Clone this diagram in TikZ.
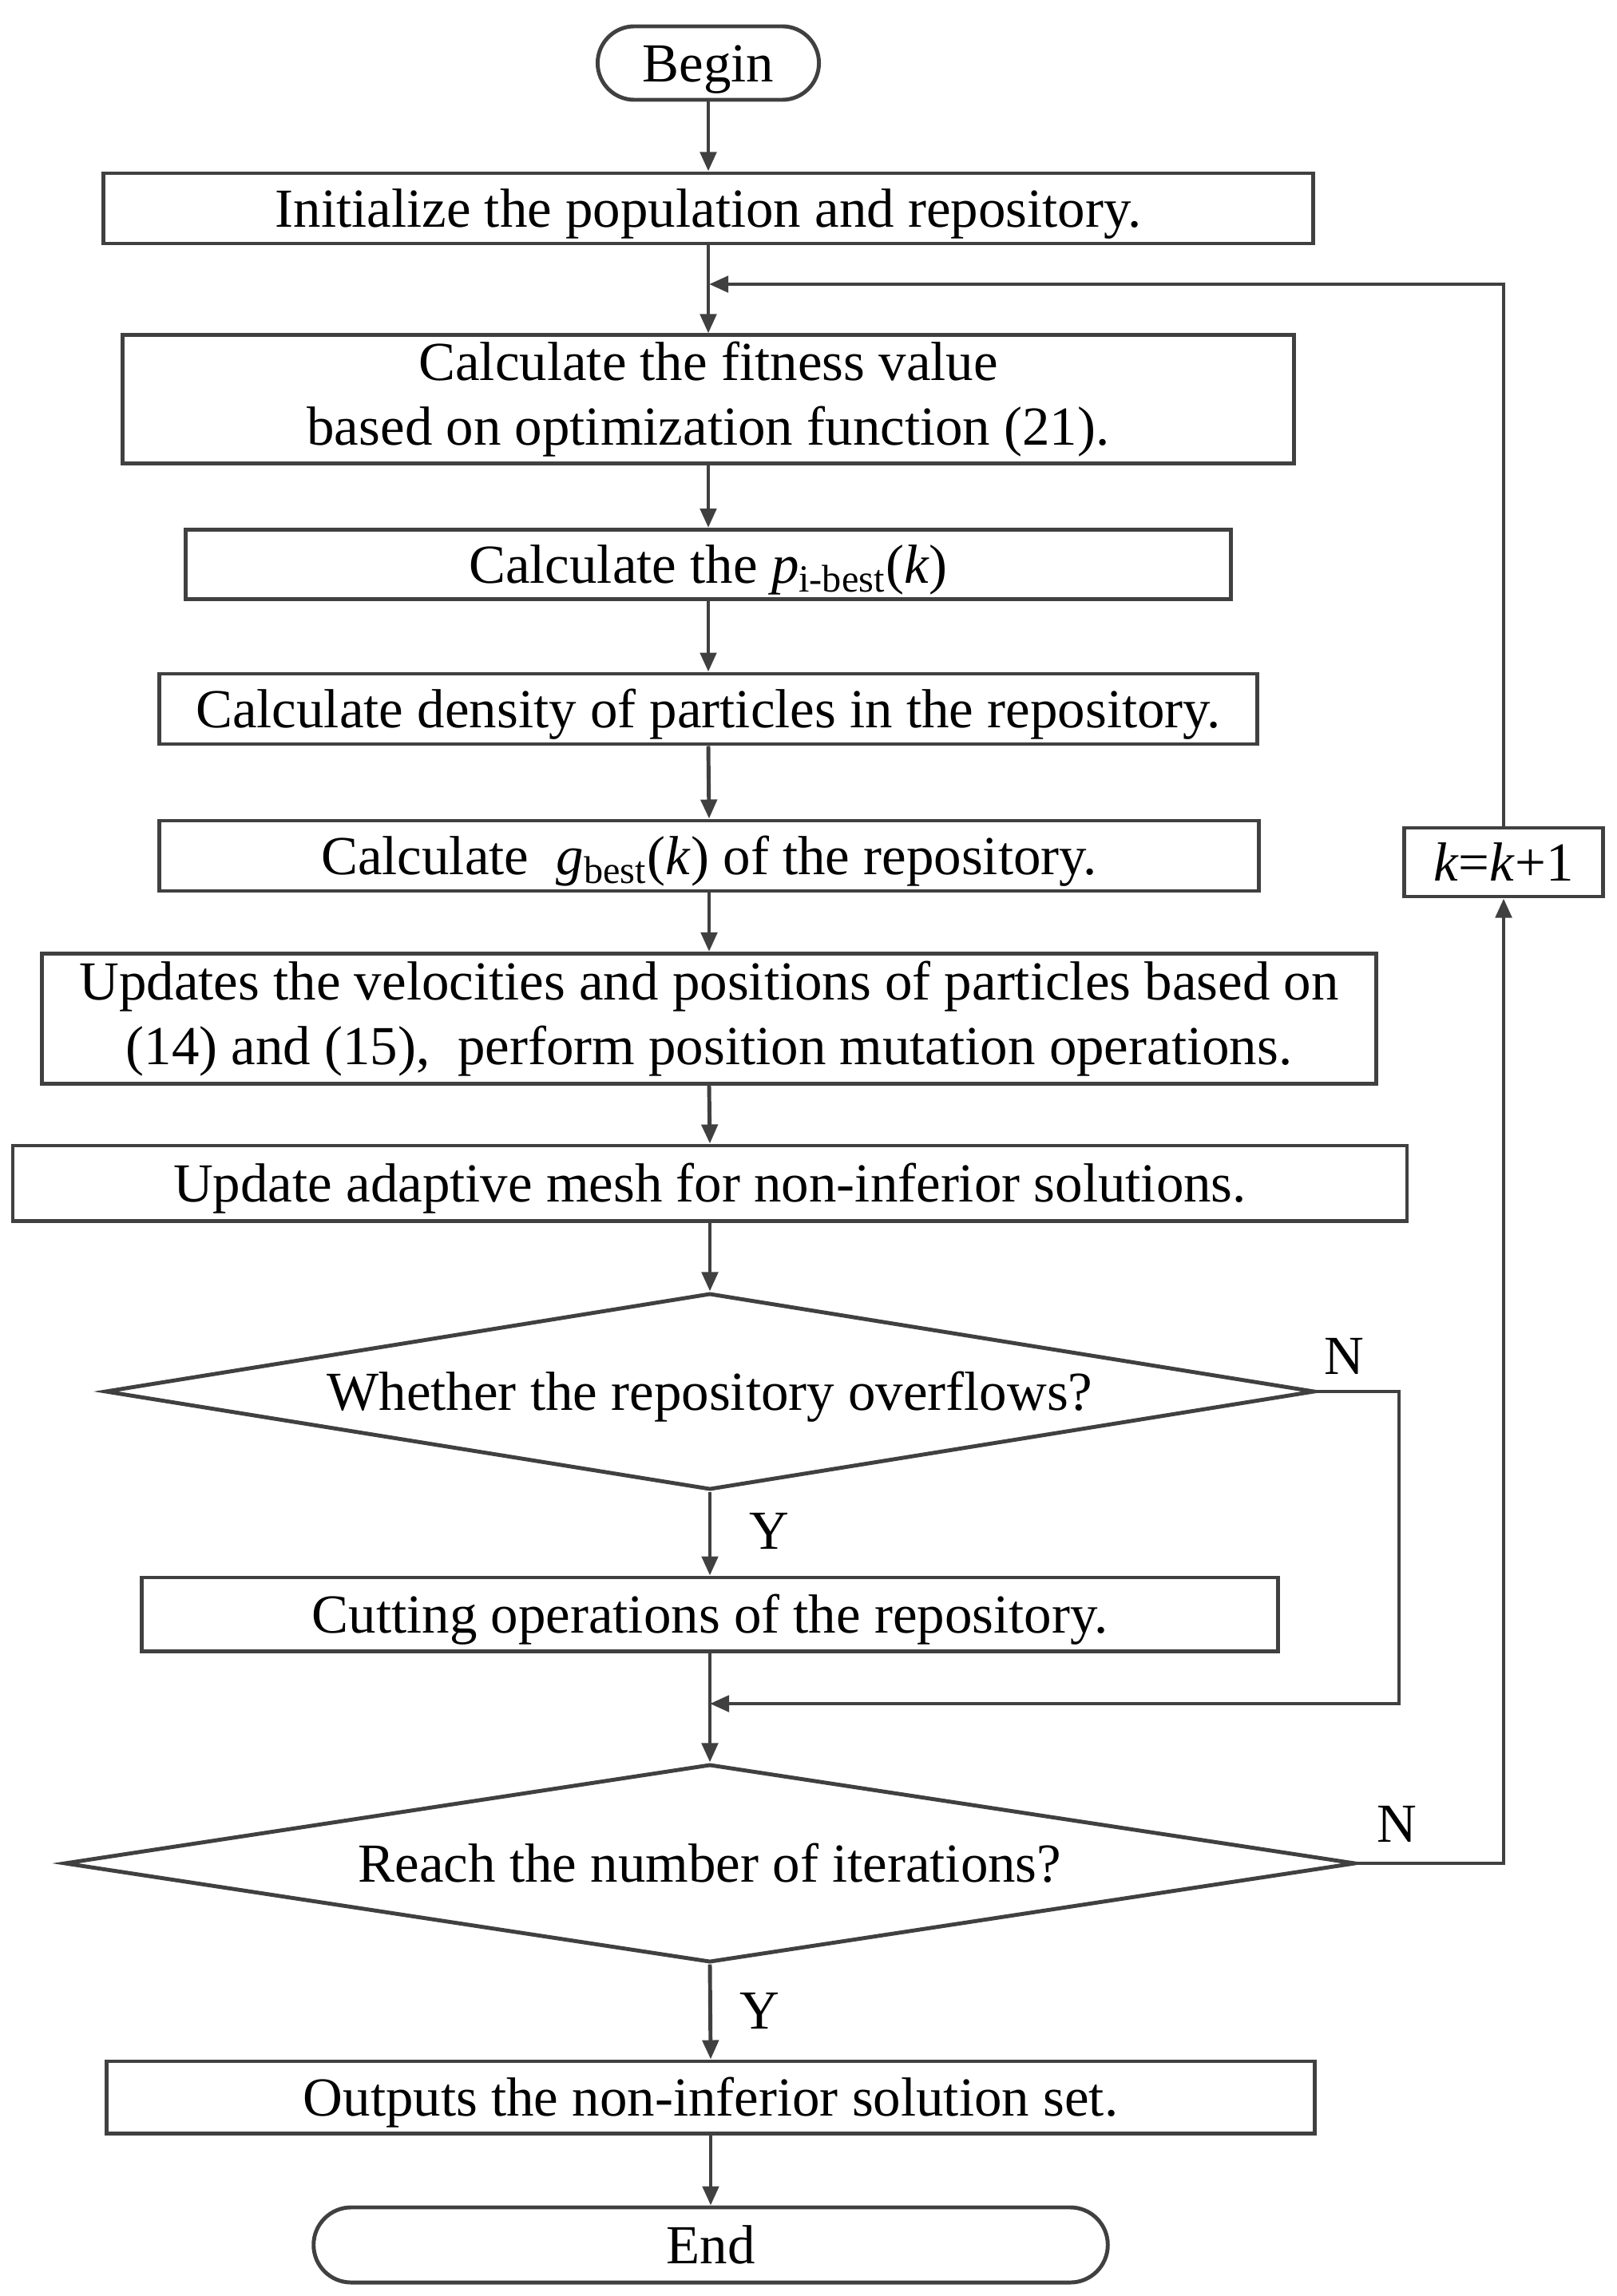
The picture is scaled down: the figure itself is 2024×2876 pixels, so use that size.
\documentclass[tikz,border=0pt]{standalone}
\usepackage{fontspec}
\setmainfont{Liberation Serif}
\usetikzlibrary{arrows.meta,shapes.geometric,shapes.misc}
\definecolor{ln}{HTML}{404040}
\tikzset{
  txt/.style={font=\fontsize{19.6}{23}\selectfont},
  shp/.style={txt, draw=ln, line width=1.4pt, inner sep=0pt},
  box/.style={shp, rectangle, text height=13.3pt, text depth=0pt},
  mbox/.style={shp, rectangle, align=center},
  term/.style={shp, rounded rectangle, text height=13.3pt, text depth=0pt},
  dec/.style={shp, diamond, aspect=6.15, text height=13.3pt, text depth=0pt},
  arr/.style={draw=ln, line width=1.4pt, -{Triangle[length=0.24cm,width=0.2cm]}},
  lbl/.style={txt, inner sep=0pt},
}
\begin{document}
\begin{tikzpicture}[x=0.01cm,y=-0.01cm]
\useasboundingbox (0,0) rectangle (2024,2876);
\node[term, minimum width=2.77cm, minimum height=0.92cm] (begin) at (887,79) {Begin};
\node[box, minimum width=15.14cm, minimum height=0.88cm] (b1) at (887,261) {Initialize the population and repository.};
\node[mbox, minimum width=14.66cm, minimum height=1.60cm] (b2) at (887,500) {Calculate the fitness value\\ based on optimization function (21).};
\node[box, minimum width=13.08cm, minimum height=0.87cm] (b3) at (887,707) {Calculate the \textit{p}\textsubscript{i-best}(\textit{k})};
\node[box, minimum width=13.74cm, minimum height=0.88cm] (b4) at (887,888) {Calculate density of particles in the repository.};
\node[box, minimum width=13.76cm, minimum height=0.88cm] (b5) at (888,1072) {Calculate \ \textit{g}\textsubscript{best}(\textit{k}) of the repository.};
\node[mbox, minimum width=16.70cm, minimum height=1.63cm] (b6) at (888,1276) {Updates the velocities and positions of particles based on\\ (14) and (15), \ perform position mutation operations.};
\node[box, minimum width=17.45cm, minimum height=0.94cm] (b7) at (889,1482) {Update adaptive mesh for non-inferior solutions.};
\node[dec, minimum width=15.14cm, minimum height=2.46cm] (d1) at (889,1743) {Whether the repository overflows?};
\node[box, minimum width=14.22cm, minimum height=0.92cm] (b8) at (889,2022) {Cutting operations of the repository.};
\node[dec, minimum width=16.16cm, minimum height=2.48cm] (d2) at (889,2334) {Reach the number of iterations?};
\node[box, minimum width=2.49cm, minimum height=0.86cm] (kb) at (1883,1080) {\textit{k}=\textit{k}+1};
\node[box, minimum width=15.12cm, minimum height=0.90cm] (b9) at (890,2627) {Outputs the non-inferior solution set.};
\node[term, minimum width=9.94cm, minimum height=0.94cm] (end) at (890,2812) {End};
\node[lbl] (n1) at (1683,1699) {N};
\node[lbl] (y1) at (963,1918) {Y};
\node[lbl] (n2) at (1749,2285) {N};
\node[lbl] (y2) at (951,2519) {Y};
\coordinate (loopj) at (888,356);
\coordinate (mergej) at (889,2134);
\coordinate (r1) at (1752,1743);
\draw[arr] (begin.south) -- (b1.north);
\draw[arr] (b1.south) -- (b2.north);
\draw[arr] (b2.south) -- (b3.north);
\draw[arr] (b3.south) -- (b4.north);
\draw[arr] (b4.south) -- (b5.north);
\draw[arr] (b5.south) -- (b6.north);
\draw[arr] (b6.south) -- (b7.north);
\draw[arr] (b7.south) -- (d1.north);
\draw[arr] (d1.south) -- (b8.north);
\draw[arr] (b8.south) -- (d2.north);
\draw[arr] (d2.south) -- (b9.north);
\draw[arr] (b9.south) -- (end.north);
\draw[arr] (d1.east) -- (r1) |- (mergej);
\draw[arr] (d2.east) -| (kb.south);
\draw[arr] (kb.north) |- (loopj);
\end{tikzpicture}
\end{document}
